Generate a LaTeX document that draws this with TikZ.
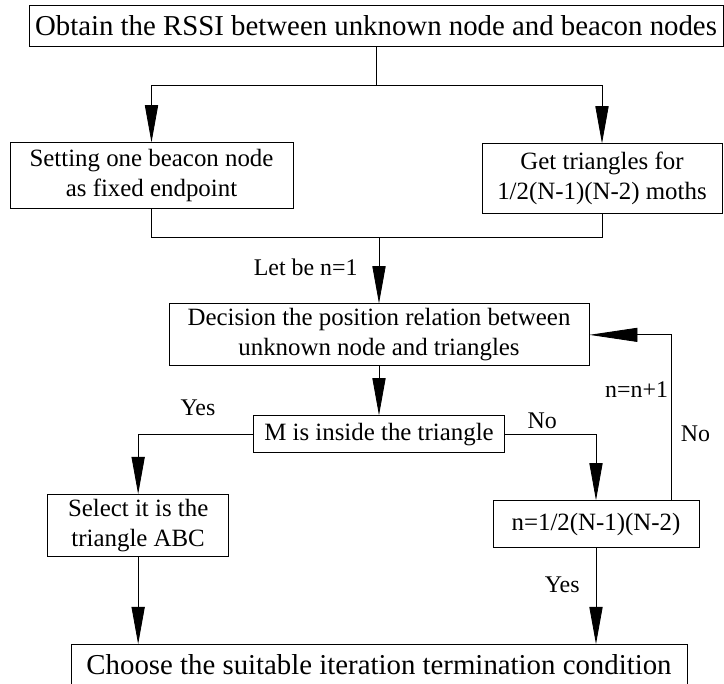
\documentclass[tikz,border=0pt]{standalone}
\usepackage{fontspec}
\setmainfont{Liberation Serif}
\usetikzlibrary{positioning,arrows.meta}
\tikzset{
  caja/.style={rectangle, draw, line width=0.6pt, align=center, inner sep=0pt,
    font=\fontsize{17.7}{21.3}\selectfont},
  cajag/.style={caja, font=\fontsize{20.5}{24}\selectfont},
  linea/.style={line width=0.6pt},
  flecha/.style={-{Triangle[length=0.93cm, width=0.33cm]}, line width=0.6pt},
  flechal/.style={-{Triangle[length=1.2cm, width=0.35cm]}, line width=0.6pt},
  etq/.style={font=\fontsize{17}{20}\selectfont, inner sep=0pt},
}

\begin{document}
\begin{tikzpicture}
  \useasboundingbox (-9.4,0.6375) rectangle (8.7,-16.4375);
  \node[cajag, minimum width=17.35cm, minimum height=1.025cm] (obt) {Obtain the RSSI between unknown node and beacon nodes};
  \node[caja, minimum width=7.075cm, minimum height=1.65cm, below=2.4cm of obt, xshift=-5.6125cm] (fijo) {Setting one beacon node\\as fixed endpoint};
  \node[caja, minimum width=6cm, minimum height=1.75cm, below=2.425cm of obt, xshift=5.65cm] (triang) {Get triangles for\\1/2(N-1)(N-2) moths};
  \node[caja, minimum width=10.5cm, minimum height=1.55cm, below=6.425cm of obt, xshift=0.075cm] (decis) {Decision the position relation between\\unknown node and triangles};
  \node[caja, minimum width=6.275cm, minimum height=0.925cm, below=1.225cm of decis] (dentro) {M is inside the triangle};
  \node[caja, minimum width=4.525cm, minimum height=1.55cm, below left=1.025cm and 0.6cm of dentro] (selec) {Select it is the\\triangle ABC};
  \node[caja, minimum width=5.15cm, minimum height=1.175cm, below=7.15cm of triang, xshift=-0.15cm] (cond) {n=1/2(N-1)(N-2)};
  \node[cajag, minimum width=15.4cm, minimum height=1cm, below=4.775cm of dentro] (fin) {Choose the suitable iteration termination condition};
  \coordinate[below=0.975cm of obt] (rama);
  \coordinate[above=1.65cm of decis] (junta);
  \draw[linea] (obt) -- (rama);
  \draw[flecha] (rama) -| (fijo);
  \draw[flecha] (rama) -| (triang);
  \draw[linea] (fijo) |- (junta) -| (triang);
  \draw[flecha] (junta) -- node[etq, left=0.525cm, pos=0.45] {Let be n=1} (decis);
  \draw[flecha] (decis) -- (dentro);
  \draw[flecha] (dentro) -| node[etq, above=0.45cm, pos=0.24] {Yes} (selec);
  \draw[flecha] (dentro) -| node[etq, above=0.12cm, pos=0.205] {No} (cond);
  \draw[flechal] ([xshift=-0.7cm]cond.north east) |- node[etq, left=0.075cm, pos=0.336] {n=n+1} node[etq, right=0.225cm, pos=0.2] {No} (decis);
  \draw[flecha] (selec) -- (selec |- fin.north);
  \draw[flecha] (cond) -- node[etq, left=0.4cm, pos=0.385] {Yes} (cond |- fin.north);
\end{tikzpicture}
\end{document}
